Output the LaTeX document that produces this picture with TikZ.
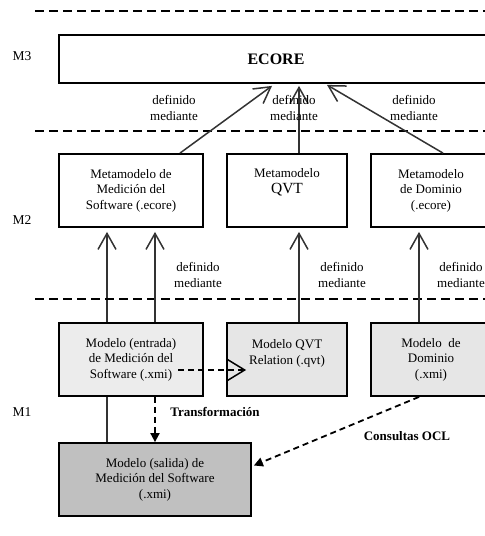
\documentclass[tikz,border=0pt]{standalone}
\usepackage{fontspec}
\setmainfont{Liberation Serif}
\usetikzlibrary{arrows.meta,backgrounds}
\definecolor{boxgrayA}{HTML}{ECECEC}
\definecolor{boxgrayB}{HTML}{E6E6E6}
\definecolor{boxgrayC}{HTML}{C0C0C0}
\definecolor{arrgray}{HTML}{333333}
\begin{document}
\begin{tikzpicture}[x=1pt,y=-1pt,
  every node/.style={font=\fontsize{13}{15.5}\selectfont, inner sep=0pt, align=center},
  box/.style={draw=black, line width=1.8pt, minimum height=73pt},
  sep/.style={draw=black, line width=1.8pt, dash pattern=on 9pt off 5pt},
  defarr/.style={draw=arrgray, line width=1.5pt, -{Straight Barb[length=16pt,width=18pt,line width=1.5pt]}},
  dasharr/.style={draw=black, line width=1.8pt, dash pattern=on 6pt off 4pt},
  lbl/.style={font=\fontsize{13}{15.5}\selectfont},
  boldlbl/.style={font=\fontsize{13}{15.5}\selectfont\bfseries},
  lvl/.style={font=\fontsize{13.5}{16}\selectfont}
]
\useasboundingbox (0,0) rectangle (485,536);
\begin{scope}[on background layer]
\fill[white] (0,0) rectangle (485,536);
\end{scope}
\clip (0,0) rectangle (485,536);

% layer separators
\coordinate (s1a) at (35,11);  \coordinate (s1b) at (490,11);
\coordinate (s2a) at (35,131); \coordinate (s2b) at (490,131);
\coordinate (s3a) at (35,299); \coordinate (s3b) at (490,299);
\draw[sep] (s1a) -- (s1b);
\draw[sep] (s2a) -- (s2b);
\draw[sep] (s3a) -- (s3b);

% level labels
\node[lvl] (m3) at (22,56) {M3};
\node[lvl] (m2) at (22,220) {M2};
\node[lvl] (m1) at (22,412) {M1};

% M3
\node[box, minimum width=434pt, minimum height=48pt, font=\fontsize{16}{18}\selectfont\bfseries] (ecore) at (276,59) {ECORE};

% M2
\node[box, minimum width=144pt] (mm1) at (131,190.5) {Metamodelo de\\Medición del\\Software (.ecore)};
\node[box, minimum width=120pt] (mqvt) at (287,190.5) {Metamodelo\\{\fontsize{15.5}{18}\selectfont QVT}\\[4pt]\mbox{}};
\node[box, minimum width=120pt] (mdom) at (431,190.5) {Metamodelo\\de Dominio\\(.ecore)};

% M1
\node[box, minimum width=144pt, fill=boxgrayA] (mi1) at (131,359.5) {Modelo (entrada)\\de Medición del\\Software (.xmi)};
\node[box, minimum width=120pt, fill=boxgrayB] (mi2) at (287,359.5) {Modelo QVT\\Relation (.qvt)\\\mbox{}};
\node[box, minimum width=120pt, fill=boxgrayB] (mi3) at (431,359.5) {Modelo\ \ de\\Dominio\\(.xmi)};
\node[box, minimum width=192pt, fill=boxgrayC] (out) at (155,479.5) {Modelo (salida) de\\Medición del Software\\(.xmi)};

% definido mediante : M2 -> M3
\draw[defarr] ([xshift=49pt]mm1.north) -- ([xshift=-4pt,yshift=-2pt]ecore.south);
\draw[defarr] ([xshift=12pt]mqvt.north) -- ([xshift=12pt,yshift=-2pt]mqvt.north |- ecore.south);
\draw[defarr] ([xshift=12pt]mdom.north) -- ([xshift=51pt,yshift=-1pt]ecore.south);

% definido mediante : M1 -> M2
\begin{scope}[on background layer]
\draw[defarr] ([xshift=-48pt]out.north) -- ([xshift=-24pt,yshift=-4pt]mm1.south);
\end{scope}
\draw[defarr] ([xshift=24pt]mi1.north) -- ([xshift=24pt,yshift=-4pt]mm1.south);
\draw[defarr] ([xshift=12pt]mi2.north) -- ([xshift=12pt,yshift=-4pt]mqvt.south);
\draw[defarr] ([xshift=-12pt]mi3.north) -- ([xshift=-12pt,yshift=-4pt]mdom.south);

% labels
\node[lbl] (d1) at (174,108) {definido\\mediante};
\node[lbl] (d2) at (294,108) {definido\\mediante};
\node[lbl] (d3) at (414,108) {definido\\mediante};
\node[lbl] (d4) at (198,275) {definido\\mediante};
\node[lbl] (d5) at (342,275) {definido\\mediante};
\node[lbl] (d6) at (461,275) {definido\\mediante};

% dashed arrows
\draw[dasharr, -{Straight Barb[length=18pt,width=22pt,line width=1.5pt]}] ([shift={(47,10.5)}]mi1.center) -- ([shift={(20,10.5)}]mi2.west);
\draw[dasharr, -{Triangle[length=9pt,width=9pt]}] ([xshift=24pt]mi1.south) -- (out.north);
\draw[dasharr, -{Triangle[length=9pt,width=9pt]}] ([xshift=-12pt]mi3.south) -- ([shift={(2,-14)}]out.east);

\node[boldlbl] (tr) at (215,412) {Transformación};
\node[boldlbl] (ocl) at (407,436) {Consultas OCL};
\end{tikzpicture}
\end{document}
